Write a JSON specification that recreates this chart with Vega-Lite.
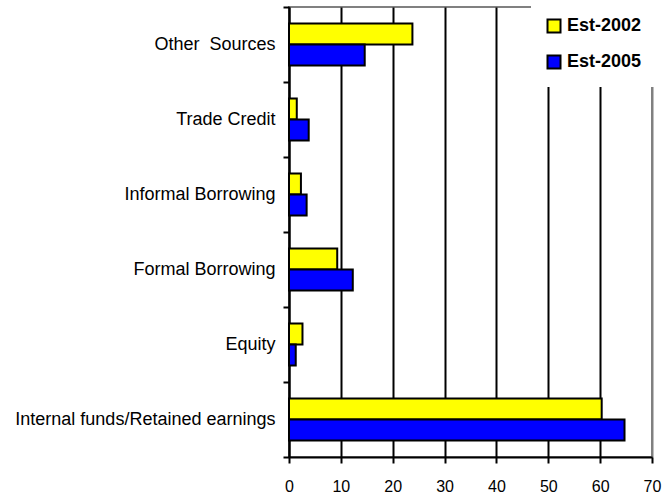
{
  "$schema": "https://vega.github.io/schema/vega-lite/v6.json",
  "autosize": "none",
  "padding": {"left": 289, "top": 7, "right": 11, "bottom": 39},
  "width": 363,
  "height": 450,
  "background": "white",
  "config": {
    "font": "Liberation Sans",
    "view": {"stroke": "#808080", "strokeWidth": 2},
    "axis": {"labelFont": "Liberation Sans", "labelColor": "black", "domainColor": "black", "domainWidth": 2, "tickColor": "black", "tickWidth": 2, "tickSize": 6}
  },
  "data": {
    "values": [
      {"source": "Other\u00a0 Sources", "series": "Est-2002", "value": 23.8},
      {"source": "Other\u00a0 Sources", "series": "Est-2005", "value": 14.6},
      {"source": "Trade Credit", "series": "Est-2002", "value": 1.5},
      {"source": "Trade Credit", "series": "Est-2005", "value": 3.8},
      {"source": "Informal Borrowing", "series": "Est-2002", "value": 2.3},
      {"source": "Informal Borrowing", "series": "Est-2005", "value": 3.4},
      {"source": "Formal Borrowing", "series": "Est-2002", "value": 9.3},
      {"source": "Formal Borrowing", "series": "Est-2005", "value": 12.3},
      {"source": "Equity", "series": "Est-2002", "value": 2.6},
      {"source": "Equity", "series": "Est-2005", "value": 1.3},
      {"source": "Internal funds/Retained earnings", "series": "Est-2002", "value": 60.3},
      {"source": "Internal funds/Retained earnings", "series": "Est-2005", "value": 64.7}
    ]
  },
  "mark": {"type": "bar", "stroke": "black", "strokeWidth": 2},
  "encoding": {
    "y": {
      "field": "source",
      "type": "nominal",
      "sort": ["Other\u00a0 Sources", "Trade Credit", "Informal Borrowing", "Formal Borrowing", "Equity", "Internal funds/Retained earnings"],
      "scale": {"paddingInner": 0, "paddingOuter": 0},
      "axis": {"title": null, "grid": false, "tickBand": "extent", "labelFontSize": 18, "labelPadding": 8, "labelLimit": 400}
    },
    "yOffset": {
      "field": "series",
      "type": "nominal",
      "scale": {"paddingInner": 0, "paddingOuter": 0.786}
    },
    "x": {
      "field": "value",
      "type": "quantitative",
      "scale": {"domain": [0, 70], "nice": false},
      "axis": {
        "title": null,
        "values": [0, 10, 20, 30, 40, 50, 60, 70],
        "grid": true,
        "gridColor": {"condition": {"test": "datum.value == 70", "value": "#808080"}, "value": "black"},
        "gridWidth": 2,
        "gridOpacity": 1,
        "labelFontSize": 16,
        "labelPadding": 15,
        "labelFlush": false
      }
    },
    "color": {
      "field": "series",
      "type": "nominal",
      "scale": {"domain": ["Est-2002", "Est-2005"], "range": ["#FFFF00", "#0000FF"]},
      "legend": {
        "title": null,
        "orient": "none",
        "legendX": 242,
        "legendY": -4,
        "fillColor": "white",
        "padding": 14,
        "symbolType": "square",
        "symbolSize": 169,
        "symbolStrokeColor": "black",
        "symbolStrokeWidth": 2,
        "symbolOpacity": 1,
        "labelFontSize": 18,
        "labelFontWeight": "bold",
        "labelColor": "black",
        "labelOffset": 4,
        "rowPadding": 14
      }
    }
  }
}
